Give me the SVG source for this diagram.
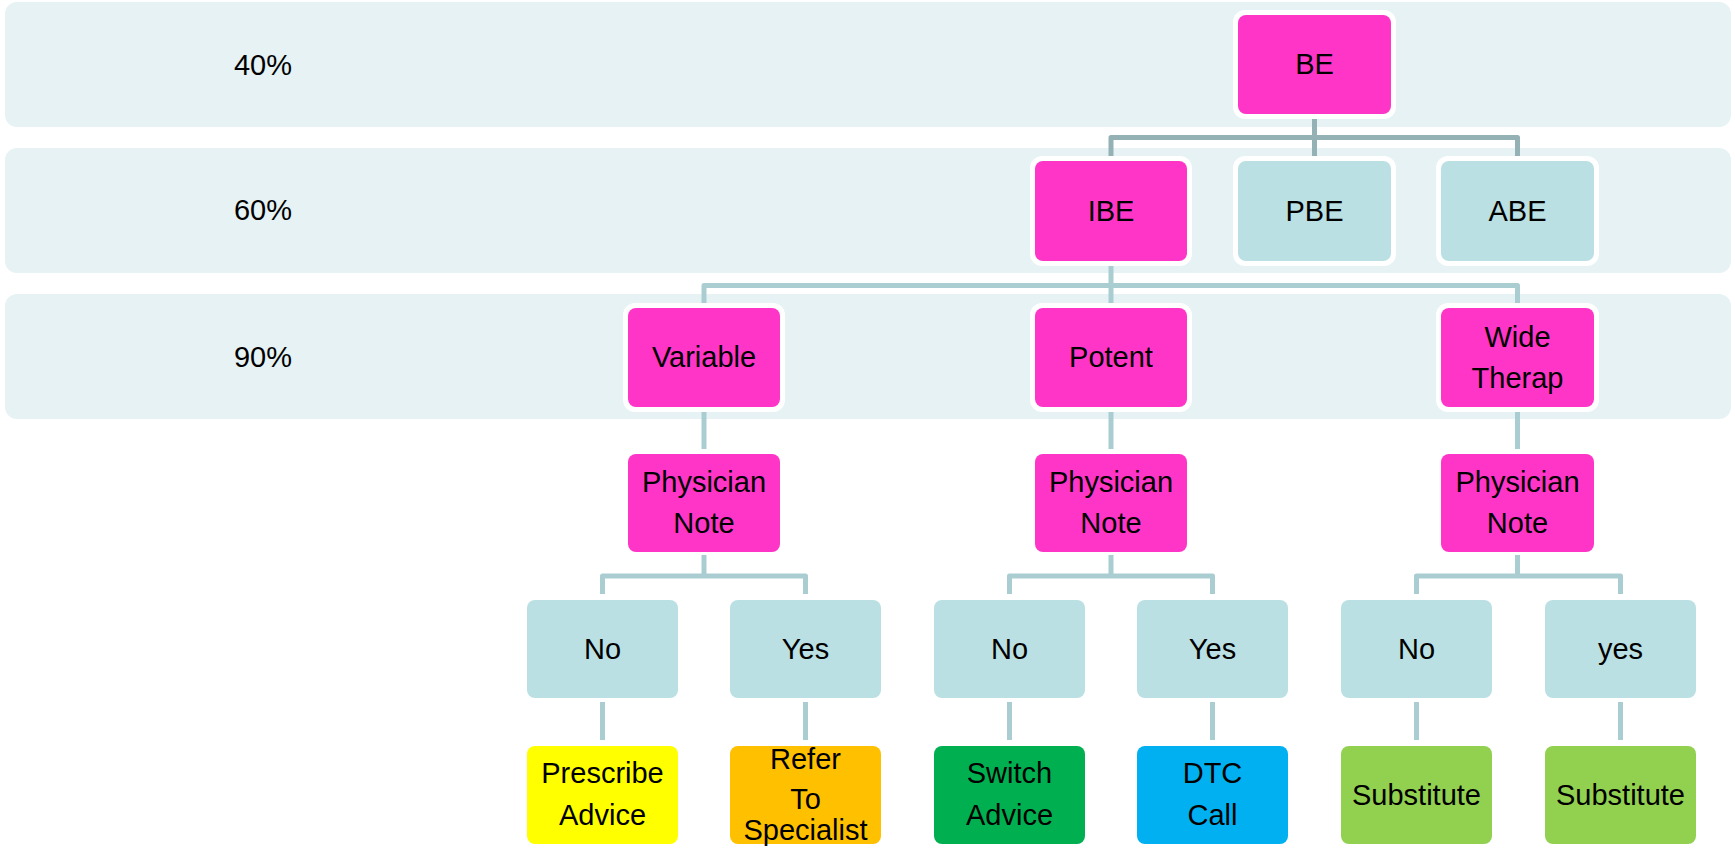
<svg xmlns="http://www.w3.org/2000/svg" width="1735" height="848" viewBox="0 0 1735 848">
<style>
.band{fill:#E6F2F4}
.halo{fill:#FFFFFF}
.pink{fill:#FF35C8}
.lb{fill:#BAE0E3}
.yel{fill:#FFFF00}
.org{fill:#FFC000}
.grn{fill:#00B050}
.blu{fill:#00B0F0}
.lgr{fill:#92D050}
text{font-family:"Liberation Sans",Arial,sans-serif;font-size:29px;fill:#000;text-anchor:middle}
.c1{fill:none;stroke:#94B2B5;stroke-width:5;stroke-linejoin:round}
.c2{fill:none;stroke:#A9CDD1;stroke-width:5;stroke-linejoin:round}
</style>
<g id="bands">
<rect class="band" x="5" y="2" width="1726" height="125" rx="12"/>
<rect class="band" x="5" y="148" width="1726" height="125" rx="12"/>
<rect class="band" x="5" y="294" width="1726" height="125" rx="12"/>
<text x="263" y="75">40%</text>
<text x="263" y="220">60%</text>
<text x="263" y="367">90%</text>
</g>
<g id="connectors">
<path class="c1" d="M1314.5 116 V137.5 M1111 157 V137.5 H1517.5 V157 M1314.5 137.5 V157"/>
<path class="c2" d="M1111 264 V285.5 M704 304 V285.5 H1517.5 V304 M1111 285.5 V304"/>
<path class="c2" d="M704 410 V449 M1111 410 V449 M1517.5 410 V449"/>
<path class="c2" d="M704 555 V576 M602.5 594 V576 H805.5 V594"/>
<path class="c2" d="M1111 555 V576 M1009.5 594 V576 H1212.5 V594"/>
<path class="c2" d="M1517.5 555 V576 M1416.5 594 V576 H1620.5 V594"/>
<path class="c2" d="M602.5 702 V740 M805.5 702 V740 M1009.5 702 V740 M1212.5 702 V740 M1416.5 702 V740 M1620.5 702 V740"/>
</g>
<g id="n-BE"><rect class="halo" x="1233" y="10" width="163" height="109" rx="12"/><rect class="pink" x="1238" y="15" width="153" height="99" rx="8"/><text x="1314.5" y="74">BE</text></g>
<g id="n-IBE"><rect class="halo" x="1030" y="156" width="162" height="110" rx="12"/><rect class="pink" x="1035" y="161" width="152" height="100" rx="8"/><text x="1111" y="221">IBE</text></g>
<g id="n-PBE"><rect class="halo" x="1233" y="156" width="163" height="110" rx="12"/><rect class="lb" x="1238" y="161" width="153" height="100" rx="8"/><text x="1314.5" y="221">PBE</text></g>
<g id="n-ABE"><rect class="halo" x="1436" y="156" width="163" height="110" rx="12"/><rect class="lb" x="1441" y="161" width="153" height="100" rx="8"/><text x="1517.5" y="221">ABE</text></g>
<g id="n-variable"><rect class="halo" x="623" y="303" width="162" height="109" rx="12"/><rect class="pink" x="628" y="308" width="152" height="99" rx="8"/><text x="704" y="367">Variable</text></g>
<g id="n-potent"><rect class="halo" x="1030" y="303" width="162" height="109" rx="12"/><rect class="pink" x="1035" y="308" width="152" height="99" rx="8"/><text x="1111" y="367">Potent</text></g>
<g id="n-wide"><rect class="halo" x="1436" y="303" width="163" height="109" rx="12"/><rect class="pink" x="1441" y="308" width="153" height="99" rx="8"/><text x="1517.5" y="347">Wide</text><text x="1517.5" y="388">Therap</text></g>
<g id="n-pn1"><rect class="pink" x="628" y="454" width="152" height="98" rx="8"/><text x="704" y="492">Physician</text><text x="704" y="533">Note</text></g>
<g id="n-pn2"><rect class="pink" x="1035" y="454" width="152" height="98" rx="8"/><text x="1111" y="492">Physician</text><text x="1111" y="533">Note</text></g>
<g id="n-pn3"><rect class="pink" x="1441" y="454" width="153" height="98" rx="8"/><text x="1517.5" y="492">Physician</text><text x="1517.5" y="533">Note</text></g>
<g id="n-no1"><rect class="lb" x="527" y="600" width="151" height="98" rx="8"/><text x="602.5" y="659">No</text></g>
<g id="n-yes1"><rect class="lb" x="730" y="600" width="151" height="98" rx="8"/><text x="805.5" y="659">Yes</text></g>
<g id="n-no2"><rect class="lb" x="934" y="600" width="151" height="98" rx="8"/><text x="1009.5" y="659">No</text></g>
<g id="n-yes2"><rect class="lb" x="1137" y="600" width="151" height="98" rx="8"/><text x="1212.5" y="659">Yes</text></g>
<g id="n-no3"><rect class="lb" x="1341" y="600" width="151" height="98" rx="8"/><text x="1416.5" y="659">No</text></g>
<g id="n-yes3"><rect class="lb" x="1545" y="600" width="151" height="98" rx="8"/><text x="1620.5" y="659">yes</text></g>
<g id="n-prescribe"><rect class="yel" x="527" y="746" width="151" height="98" rx="8"/><text x="602.5" y="783">Prescribe</text><text x="602.5" y="825">Advice</text></g>
<g id="n-refer"><rect class="org" x="730" y="746" width="151" height="98" rx="8"/><text x="805.5" y="769">Refer</text><text x="805.5" y="809">To</text><text x="805.5" y="840">Specialist</text></g>
<g id="n-switch"><rect class="grn" x="934" y="746" width="151" height="98" rx="8"/><text x="1009.5" y="783">Switch</text><text x="1009.5" y="825">Advice</text></g>
<g id="n-dtc"><rect class="blu" x="1137" y="746" width="151" height="98" rx="8"/><text x="1212.5" y="783">DTC</text><text x="1212.5" y="825">Call</text></g>
<g id="n-sub1"><rect class="lgr" x="1341" y="746" width="151" height="98" rx="8"/><text x="1416.5" y="805">Substitute</text></g>
<g id="n-sub2"><rect class="lgr" x="1545" y="746" width="151" height="98" rx="8"/><text x="1620.5" y="805">Substitute</text></g>
</svg>
